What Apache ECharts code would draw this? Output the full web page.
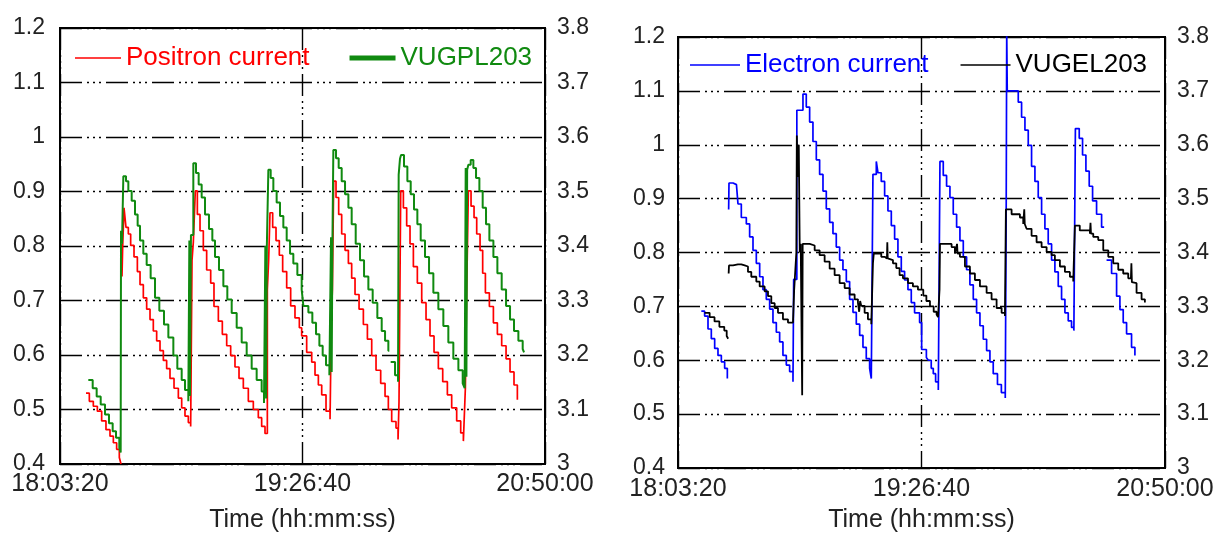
<!DOCTYPE html>
<html>
<head>
<meta charset="utf-8">
<title>Beam current and vacuum pressure</title>
<script src="https://cdn.jsdelivr.net/npm/echarts@6/dist/echarts.min.js"></script>
<style>
  html, body { margin: 0; padding: 0; background: #fff; }
  #chart { width: 1223px; height: 538px; }
</style>
</head>
<body>
<div id="chart"></div>
<script>
// Time axis: seconds of the day, 18:03:20 .. 20:50:00
const timeStart = 65000;
const timeEnd = 75000;
const timeStep = 5000;
const timeTickLabels = ['18:03:20', '19:26:40', '20:50:00'];

// Left-hand axis (beam current) and right-hand axis (pressure gauge) ranges
const currentRange = [0.4, 1.2];
const gaugeRange = [3.0, 3.8];

// Positron ring: beam current [time s, current]
const positronCurrent = [
  [65536,0.530],[65605,0.515],[65687,0.506],[65770,0.497],[65859,0.479],[65948,0.463],[66031,0.451],[66100,0.439],[66168,0.427],[66223,0.412],[66258,0.400],
  [66268,null],
  [66278,0.744],[66292,0.798],[66320,0.870],[66361,0.834],[66409,0.822],[66457,0.801],[66526,0.780],[66595,0.753],[66650,0.729],[66718,0.705],[66787,0.684],[66856,0.665],[66924,0.644],[66993,0.626],[67062,0.608],[67131,0.590],[67199,0.575],[67268,0.557],[67351,0.539],[67440,0.521],[67509,0.503],[67577,0.488],[67646,0.476],[67694,0.469],
  [67722,0.774],[67749,0.807],[67790,0.901],[67832,0.858],[67887,0.828],[67955,0.792],[68024,0.756],[68107,0.732],[68175,0.689],[68265,0.662],[68347,0.638],[68437,0.617],[68519,0.599],[68608,0.578],[68691,0.557],[68780,0.539],[68883,0.515],[68986,0.500],[69089,0.485],[69158,0.469],[69227,0.456],
  [69275,0.720],[69302,0.774],[69330,0.861],[69385,0.834],[69454,0.810],[69522,0.783],[69591,0.753],[69674,0.723],[69756,0.690],[69845,0.668],[69935,0.650],[69983,0.635],[70086,0.605],[70190,0.587],[70258,0.563],[70327,0.545],[70396,0.527],[70485,0.497],[70568,0.482],
  [70595,0.665],[70616,0.720],[70643,0.919],[70691,0.889],[70746,0.858],[70808,0.822],[70877,0.792],[70946,0.768],[71014,0.741],[71083,0.711],[71166,0.684],[71255,0.656],[71338,0.629],[71427,0.599],[71516,0.572],[71612,0.548],[71702,0.524],[71770,0.500],[71839,0.478],[71928,0.466],[71970,0.445],
  [71990,0.515],[72025,0.901],[72080,0.870],[72148,0.837],[72217,0.804],[72286,0.762],[72368,0.732],[72458,0.696],[72547,0.665],[72629,0.635],[72712,0.605],[72801,0.575],[72891,0.551],[72987,0.527],[73076,0.503],[73179,0.479],[73262,0.457],[73317,0.442],
  [73358,0.539],[73386,0.720],[73420,0.901],[73475,0.873],[73537,0.852],[73592,0.822],[73661,0.792],[73715,0.750],[73771,0.714],[73853,0.689],[73936,0.659],[74018,0.638],[74107,0.617],[74197,0.593],[74279,0.569],[74361,0.545],[74430,0.518]
];

// Positron ring: gauge VUGPL203 [time s, reading]
const vugpl203 = [
  [65584,3.154],[65674,3.139],[65756,3.124],[65839,3.109],[65928,3.091],[66010,3.075],[66086,3.060],[66155,3.048],[66223,3.030],[66251,3.021],
  [66258,3.428],[66278,3.404],[66306,3.528],[66361,3.519],[66409,3.501],[66478,3.483],[66546,3.458],[66601,3.437],[66650,3.410],[66718,3.386],[66787,3.365],[66869,3.341],[66959,3.305],[67048,3.281],[67144,3.256],[67234,3.232],[67337,3.199],[67419,3.175],[67509,3.154],[67577,3.136],[67646,3.115],
  [67667,3.410],[67680,3.125],[67700,3.420],[67749,3.552],[67804,3.534],[67859,3.513],[67921,3.489],[67990,3.458],[68072,3.431],[68141,3.410],[68196,3.380],[68278,3.356],[68368,3.326],[68450,3.302],[68540,3.277],[68643,3.250],[68746,3.223],[68849,3.199],[68952,3.175],[69055,3.154],[69158,3.133],[69206,3.112],
  [69234,3.400],[69250,3.120],[69265,3.400],[69296,3.540],[69344,3.525],[69399,3.501],[69467,3.480],[69536,3.455],[69605,3.434],[69674,3.410],[69743,3.386],[69811,3.368],[69894,3.347],[69983,3.320],[70018,3.290],[70121,3.278],[70203,3.259],[70279,3.238],[70348,3.217],[70416,3.199],[70485,3.181],[70554,3.163],
  [70588,3.416],[70602,3.169],[70616,3.398],[70636,3.576],[70691,3.561],[70746,3.543],[70808,3.519],[70877,3.495],[70946,3.470],[71014,3.440],[71097,3.404],[71186,3.374],[71269,3.344],[71358,3.320],[71447,3.296],[71543,3.268],[71633,3.244],[71702,3.226],[71770,3.208],
  [71790,null],
  [71818,3.187],[71908,3.163],[71970,3.151],
  [71983,3.531],[72010,3.560],[72032,3.567],[72093,3.546],[72162,3.519],[72231,3.495],[72299,3.467],[72368,3.440],[72437,3.410],[72526,3.380],[72609,3.350],[72698,3.314],[72801,3.284],[72904,3.253],[73007,3.223],[73110,3.193],[73214,3.172],[73303,3.148],[73344,3.139],
  [73365,3.543],[73380,3.160],[73395,3.540],[73420,3.549],[73468,3.558],[73523,3.543],[73578,3.525],[73647,3.501],[73715,3.470],[73784,3.440],[73853,3.410],[73936,3.380],[74018,3.350],[74107,3.320],[74197,3.290],[74279,3.265],[74361,3.244],[74451,3.226],[74540,3.211],[74568,3.205]
];

// Electron ring: beam current [time s, current]
const electronCurrent = [
  [65479,0.691],[65547,0.682],[65616,0.658],[65684,0.640],[65753,0.622],[65821,0.609],[65890,0.597],[65958,0.585],[66013,0.566],
  [66027,null],
  [66040,0.880],[66047,0.929],[66130,0.926],[66200,0.926],[66232,0.890],[66300,0.865],[66403,0.853],[66471,0.829],[66540,0.804],[66608,0.780],[66677,0.755],[66745,0.731],[66813,0.713],[66882,0.695],[66950,0.670],[67019,0.652],[67087,0.634],[67155,0.609],[67224,0.591],[67292,0.579],[67361,0.560],
  [67375,0.750],[67440,1.064],[67566,1.094],[67634,1.070],[67703,1.042],[67771,1.006],[67840,0.972],[67908,0.945],[67977,0.914],[68045,0.881],[68114,0.856],[68182,0.835],[68250,0.810],[68319,0.786],[68387,0.768],[68456,0.746],[68524,0.713],[68593,0.689],[68661,0.667],[68730,0.646],[68798,0.624],[68866,0.603],[68935,0.585],[68969,0.566],
  [69003,0.945],[69072,0.969],[69106,0.948],[69174,0.932],[69243,0.905],[69311,0.877],[69380,0.850],[69448,0.825],[69516,0.792],[69585,0.765],[69653,0.749],[69722,0.731],[69790,0.707],[69858,0.688],[69961,0.670],[70003,0.620],[70100,0.605],[70140,0.600],[70200,0.585],[70242,0.575],[70290,0.560],[70345,0.545],
  [70379,0.969],[70447,0.943],[70515,0.923],[70584,0.902],[70652,0.871],[70721,0.847],[70789,0.822],[70858,0.792],[70926,0.768],[70994,0.740],[71063,0.713],[71131,0.688],[71200,0.664],[71268,0.639],[71337,0.618],[71405,0.597],[71473,0.575],[71560,0.555],[71640,0.540],[71720,0.530],
  [71740,0.900],[71750,1.210],[71761,1.100],[71918,1.100],[71987,1.079],[72055,1.051],[72124,1.027],[72192,0.999],[72260,0.960],[72329,0.932],[72397,0.902],[72466,0.871],[72534,0.844],[72602,0.816],[72671,0.786],[72739,0.764],[72808,0.737],[72876,0.713],[72945,0.688],[73013,0.673],[73081,0.661],[73129,0.655],
  [73160,1.030],[73239,1.012],[73307,0.981],[73376,0.951],[73444,0.923],[73513,0.896],[73595,0.871],[73698,0.847],
  [73750,null],
  [73800,0.786],[73903,0.761],[74006,0.719],[74074,0.694],[74142,0.670],[74211,0.649],[74313,0.624],[74382,0.609]
];

// Electron ring: gauge VUGEL203 [time s, reading]
const vugel203 = [
  [65547,3.288],[65650,3.280],[65750,3.272],[65850,3.262],[65950,3.255],[66000,3.245],[66030,3.240],
  [66035,null],
  [66040,3.361],[66047,3.376],[66130,3.378],[66230,3.378],[66300,3.376],[66369,3.374],[66437,3.364],[66505,3.355],[66608,3.346],[66677,3.337],[66779,3.328],[66848,3.319],[66916,3.306],[66985,3.297],[67053,3.288],[67155,3.276],[67258,3.270],[67361,3.267],
  [67385,3.330],[67420,3.330],[67430,3.400],[67440,3.617],[67460,3.540],[67480,3.600],[67500,3.400],[67520,3.416],[67545,3.416],[67550,3.135],[67560,3.416],
  [67566,3.416],[67703,3.413],[67806,3.404],[67908,3.395],[68011,3.383],[68114,3.370],[68216,3.358],[68319,3.343],[68422,3.334],[68524,3.322],[68627,3.313],[68695,3.307],[68720,3.290],[68740,3.310],[68764,3.301],[68832,3.288],[68900,3.276],[68969,3.267],
  [69003,3.380],[69020,3.398],[69174,3.392],[69243,3.389],[69290,3.389],[69298,3.419],[69306,3.389],[69346,3.386],[69414,3.380],[69482,3.371],[69550,3.358],[69619,3.352],[69722,3.343],[69824,3.337],[69927,3.331],[70037,3.320],[70100,3.310],[70174,3.300],[70250,3.290],[70310,3.285],[70340,3.280],[70370,3.331],
  [70379,3.416],[70515,3.416],[70618,3.410],[70686,3.398],[70720,3.398],[70730,3.416],[70740,3.398],[70789,3.392],[70892,3.374],[70994,3.361],[71097,3.349],[71200,3.337],[71337,3.325],[71439,3.313],[71542,3.297],[71645,3.288],[71713,3.282],
  [71733,3.480],[71850,3.471],[72021,3.465],[72089,3.453],[72110,3.480],[72120,3.453],[72158,3.444],[72260,3.431],[72363,3.419],[72466,3.410],[72569,3.401],[72671,3.395],[72739,3.386],[72842,3.374],[72945,3.364],[73047,3.355],[73116,3.346],
  [73150,3.450],[73250,3.441],[73458,3.435],[73470,3.455],[73480,3.435],[73527,3.429],[73629,3.423],[73732,3.404],[73835,3.392],[73937,3.380],[74040,3.368],[74142,3.361],[74245,3.352],[74300,3.352],[74310,3.380],[74320,3.345],[74348,3.343],[74416,3.325],[74519,3.313],[74587,3.307]
];

const FONT = '"Liberation Sans", Arial, Helvetica, sans-serif';
const TEXT = '#222222';
const GRID_DASH = [22, 5, 2, 4, 2, 4, 2, 5];
const RED = '#ff0000', GREEN = '#108a10', BLUE = '#0000ff', BLACK = '#000000';

// Plain bar-shaped legend keys (no point marker), thin and thick
const KEY_THIN = 'path://M0 0H46V1.6H0Z';
const KEY_THICK = 'path://M0 0H46V5H0Z';

function timeAxis(gridIndex, labelMargin, nameGap) {
  return {
    type: 'value', gridIndex,
    min: timeStart, max: timeEnd, interval: timeStep,
    axisLine: { show: false }, axisTick: { show: false },
    axisLabel: {
      fontSize: 25, color: TEXT, fontFamily: FONT, margin: labelMargin,
      showMinLabel: true, showMaxLabel: true,
      formatter: v => timeTickLabels[Math.round((v - timeStart) / timeStep)]
    },
    splitLine: { show: true, lineStyle: { color: '#000', width: 1.4, type: GRID_DASH } },
    name: 'Time (hh:mm:ss)', nameLocation: 'middle', nameGap,
    nameTextStyle: { fontSize: 25, color: TEXT, fontFamily: FONT }
  };
}

function valueAxis(gridIndex, range, position, margin, grid) {
  return {
    type: 'value', gridIndex, position,
    min: range[0], max: range[1], interval: 0.1,
    axisLine: { show: false }, axisTick: { show: false },
    axisLabel: {
      fontSize: 23, color: TEXT, fontFamily: FONT, margin,
      showMinLabel: true, showMaxLabel: true, padding: [0, 0, 8, 0]
    },
    splitLine: grid
      ? { show: true, lineStyle: { color: '#000', width: 1.4, type: GRID_DASH } }
      : { show: false }
  };
}

function trace(name, data, xi, yi, color, width) {
  return {
    type: 'line', name, data, xAxisIndex: xi, yAxisIndex: yi,
    step: 'end', showSymbol: false, symbol: 'none', connectNulls: false,
    lineStyle: { color, width }, itemStyle: { color }, z: 3
  };
}

const chart = echarts.init(document.getElementById('chart'), null, { renderer: 'canvas' });
chart.setOption({
  animation: false,
  backgroundColor: '#ffffff',
  textStyle: { fontFamily: FONT },
  grid: [
    { left: 60, top: 28, width: 485, height: 442, show: true, borderColor: '#000', borderWidth: 2, backgroundColor: 'transparent' },
    { left: 678, top: 37, width: 487, height: 437, show: true, borderColor: '#000', borderWidth: 2, backgroundColor: 'transparent' }
  ],
  xAxis: [timeAxis(0, 8, 44), timeAxis(1, 9, 40)],
  yAxis: [
    valueAxis(0, currentRange, 'left', 15, true),
    valueAxis(0, gaugeRange, 'right', 12, false),
    valueAxis(1, currentRange, 'left', 13, true),
    valueAxis(1, gaugeRange, 'right', 12, false)
  ],
  legend: [
    {
      left: 75, top: 45, padding: 0, itemWidth: 46, itemHeight: 14, itemGap: 40,
      symbolKeepAspect: true,
      textStyle: { fontSize: 26, fontFamily: FONT },
      data: [
        { name: 'Positron current', icon: KEY_THIN, textStyle: { color: RED } },
        { name: 'VUGPL203', icon: KEY_THICK, textStyle: { color: GREEN } }
      ]
    },
    {
      left: 690, top: 52, padding: 0, itemWidth: 50, itemHeight: 14, itemGap: 32,
      symbolKeepAspect: true,
      textStyle: { fontSize: 26, fontFamily: FONT },
      data: [
        { name: 'Electron current', icon: KEY_THIN, textStyle: { color: BLUE } },
        { name: 'VUGEL203', icon: KEY_THIN, textStyle: { color: BLACK } }
      ]
    }
  ],
  series: [
    trace('Positron current', positronCurrent, 0, 0, RED, 1.7),
    trace('VUGPL203', vugpl203, 0, 1, GREEN, 2),
    trace('Electron current', electronCurrent, 1, 2, BLUE, 1.7),
    trace('VUGEL203', vugel203, 1, 3, BLACK, 1.8)
  ]
});
</script>
</body>
</html>
